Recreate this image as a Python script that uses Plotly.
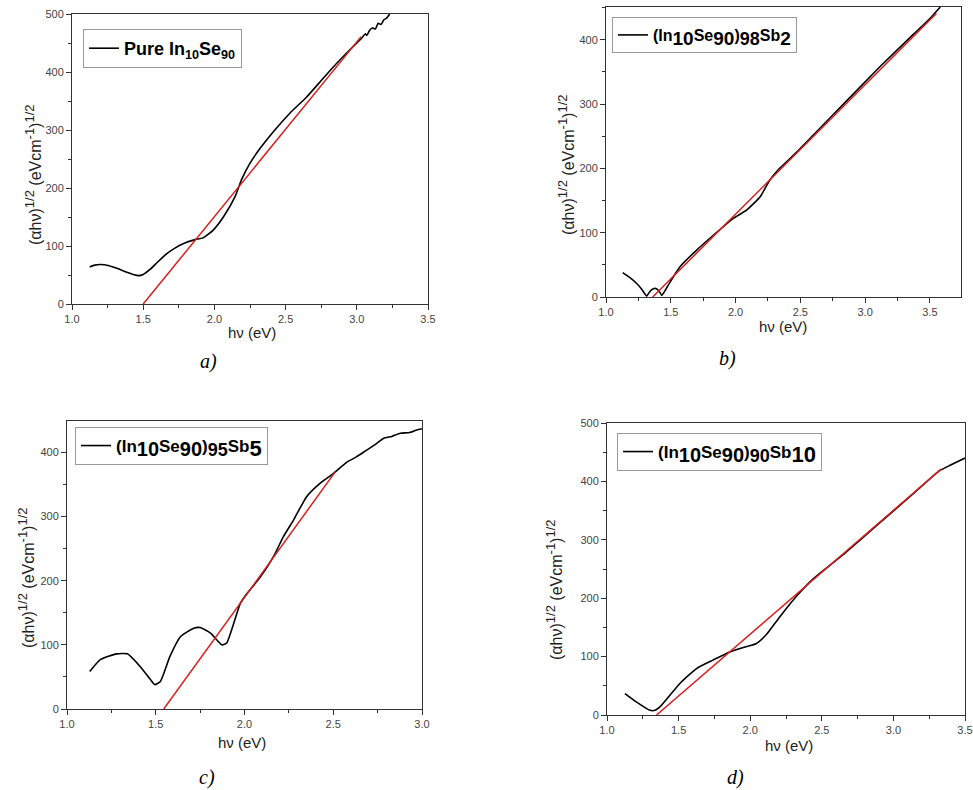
import plotly.graph_objects as go

# ---------------- data ----------------
# Panel a: Pure In10Se90
x_a = [1.124, 1.16, 1.20, 1.26, 1.32, 1.38, 1.43, 1.467, 1.50, 1.55, 1.60, 1.666, 1.72, 1.78, 1.864,
       1.92, 1.99, 2.063, 2.145, 2.19, 2.25, 2.32, 2.414, 2.53, 2.648, 2.742, 2.859, 2.95, 3.02,
       3.04, 3.06, 3.07, 3.09, 3.11, 3.13, 3.15, 3.17, 3.19, 3.21, 3.23]
y_a = [64, 67, 68, 66, 61, 55, 51, 49, 51, 60, 72, 87, 96, 104, 111,
       114, 127, 150, 185, 214, 243, 268, 297, 329, 357, 383, 415, 438, 455,
       460, 466, 463, 472, 476, 474, 484, 482, 490, 493, 500]
x_fit_a = [1.50, 3.03]
y_fit_a = [0, 461]

# Panel b: (In10Se90)98Sb2
x_b = [1.129, 1.18, 1.237, 1.28, 1.314, 1.33, 1.345, 1.365, 1.39, 1.41, 1.43, 1.45, 1.50,
       1.571, 1.70, 1.828, 1.98, 2.085, 2.19, 2.265, 2.34, 2.47, 2.60, 2.857, 3.114, 3.37, 3.50, 3.58]
y_b = [38, 31, 21, 11, 1.5, 6, 10, 13, 13, 9, 2.6, 8, 25,
       47, 73, 96, 122, 135, 156, 182, 200, 225, 252, 305, 358, 408, 433, 451]
x_fit_b = [1.36, 3.55]
y_fit_b = [0, 441]

# Panel c: (In10Se90)95Sb5
x_c = [1.128, 1.188, 1.28, 1.34, 1.413, 1.47, 1.494, 1.526, 1.58, 1.64, 1.714, 1.75, 1.81, 1.873,
       1.90, 1.94, 1.977, 2.014, 2.09, 2.164, 2.22, 2.277, 2.35, 2.427, 2.50, 2.577, 2.63, 2.69,
       2.74, 2.784, 2.83, 2.878, 2.93, 2.97, 3.0]
y_c = [58.6, 77, 86, 86, 66, 46, 38, 43, 82, 113, 126, 127, 118, 100,
       103, 134, 165, 180, 206, 238, 269, 295, 331, 352, 367, 385, 393, 404,
       413, 422, 425, 430, 431, 435, 437]
x_fit_c = [1.545, 2.512]
y_fit_c = [0, 370]

# Panel d: (In10Se90)90Sb10
x_d = [1.125, 1.207, 1.30, 1.335, 1.38, 1.509, 1.625, 1.74, 1.857, 1.97, 2.04, 2.11, 2.206, 2.32,
       2.44, 2.55, 2.67, 2.90, 3.135, 3.32, 3.40, 3.45, 3.50]
y_d = [36.6, 22, 8, 8, 16.6, 54, 79.5, 94, 108, 117, 122, 137, 168, 202.5,
       233, 255, 279, 328, 378, 418, 428, 434, 440]
x_fit_d = [1.346, 3.333]
y_fit_d = [0, 421]


def big(s, px):
    return '<span style="font-size:%dpx">%s</span>' % (px, s)


legend_names = [
    "<b>Pure In<sub>10</sub>Se<sub>90</sub></b>",
    "<b>(In<sub>%s</sub>Se<sub>%s</sub>)<sub>%s</sub>Sb<sub>%s</sub></b>" % (big("10", 19), big("90", 19), big("98", 18), big("2", 19)),
    "<b>(In<sub>%s</sub>Se<sub>%s</sub>)<sub>%s</sub>Sb<sub>%s</sub></b>" % (big("10", 20), big("90", 20), big("95", 18), big("5", 22)),
    "<b>(In<sub>%s</sub>Se<sub>%s</sub>)<sub>%s</sub>Sb<sub>%s</sub></b>" % (big("10", 20), big("90", 20), big("90", 18), big("10", 22)),
]
legend_sizes = [18, 16, 17, 17]
captions = ["a)", "b)", "c)", "d)"]
x_ranges = [[1.0, 3.5], [1.0, 3.74], [1.0, 3.0], [1.0, 3.5]]
y_ranges = [[0, 500], [0, 451], [0, 449], [0, 500]]
xtitle = "hν (eV)"
ytitle = "(αhν)<sup>%s</sup> (eVcm<sup>%s</sup>)<sup>%s</sup>" % (big("1/2", 13), big("-1", 13), big("1/2", 13))

# ---------------- layout geometry (page pixels) ----------------
W, H = 973, 790
frames = [(72, 428, 14, 304), (606, 961, 7, 297), (67, 422, 421, 709), (607, 965, 423, 715)]
legend_pos = [(83, 29), (612, 17), (75, 427), (617, 433)]
caption_pos = [(208, 361), (727, 358), (207, 777), (735, 777)]
xtitle_pos = [(252, 332), (783, 326), (242, 742), (789, 745)]
ytitle_pos = [(33, 175), (566, 165), (26, 578), (554, 590)]


def fx(p):
    return min(1.0, max(0.0, p / W))


def fy(p):
    return min(1.0, max(0.0, 1 - p / H))


series = [(x_a, y_a, x_fit_a, y_fit_a), (x_b, y_b, x_fit_b, y_fit_b),
          (x_c, y_c, x_fit_c, y_fit_c), (x_d, y_d, x_fit_d, y_fit_d)]

fig = go.Figure()
axis_col = "#333333"
FONT = "Liberation Sans, Arial"
tick_font = dict(family=FONT, size=11, color="#444444")

for i, (xs, ys, xf, yf) in enumerate(series):
    n = "" if i == 0 else str(i + 1)
    lg = "legend" if i == 0 else "legend" + str(i + 1)
    fig.add_trace(go.Scatter(x=xs, y=ys, mode="lines",
                             line=dict(color="black", width=1.6, shape="spline", smoothing=0.5),
                             name=legend_names[i], legend=lg, xaxis="x" + n, yaxis="y" + n, showlegend=True))
    fig.add_trace(go.Scatter(x=xf, y=yf, mode="lines", line=dict(color="#d81e1e", width=1.5),
                             showlegend=False, xaxis="x" + n, yaxis="y" + n))
    l, r, t, b = frames[i]
    xa = dict(domain=[fx(l), fx(r)], range=x_ranges[i], anchor="y" + n, showline=True, linecolor=axis_col,
              linewidth=1, mirror=True, ticks="outside", ticklen=5, tickcolor=axis_col, dtick=0.5, tick0=1.0,
              tickformat=".1f", showgrid=False, zeroline=False, tickfont=tick_font, automargin=False,
              minor=dict(ticks="outside", ticklen=3, dtick=0.25, tick0=1.0, tickcolor=axis_col, showgrid=False))
    ya = dict(domain=[fy(b), fy(t)], range=y_ranges[i], anchor="x" + n, showline=True, linecolor=axis_col,
              linewidth=1, mirror=True, ticks="outside", ticklen=5, tickcolor=axis_col, dtick=100, tick0=0,
              showgrid=False, zeroline=False, tickfont=tick_font, automargin=False,
              minor=dict(ticks="outside", ticklen=3, dtick=50, tick0=0, tickcolor=axis_col, showgrid=False))
    fig.layout["xaxis" + n] = xa
    fig.layout["yaxis" + n] = ya
    lx, ly = legend_pos[i]
    fig.layout[lg] = dict(x=fx(lx), y=fy(ly), xanchor="left", yanchor="top", xref="paper", yref="paper",
                          bgcolor="white", bordercolor="#999999", borderwidth=1,
                          font=dict(family=FONT, size=legend_sizes[i], color="black"))
    cx, cy = caption_pos[i]
    fig.add_annotation(x=fx(cx), y=fy(cy), xref="paper", yref="paper", xanchor="center", yanchor="middle",
                       text="<i>" + captions[i] + "</i>", showarrow=False,
                       font=dict(family="Liberation Serif, Times New Roman", size=20, color="black"))
    tx, ty = xtitle_pos[i]
    fig.add_annotation(x=fx(tx), y=fy(ty), xref="paper", yref="paper", xanchor="center", yanchor="middle",
                       text=xtitle, showarrow=False, font=dict(family=FONT, size=15, color="#222222"))
    vx, vy = ytitle_pos[i]
    fig.add_annotation(x=fx(vx), y=fy(vy), xref="paper", yref="paper", xanchor="center", yanchor="middle",
                       text=ytitle, showarrow=False, textangle=-90,
                       font=dict(family=FONT, size=16, color="#222222"))

fig.update_layout(template="none", width=W, height=H, margin=dict(l=0, r=0, t=0, b=0),
                  paper_bgcolor="white", plot_bgcolor="white", font=dict(family=FONT))
# remove the browser's default 8px body margin so the figure fills the window exactly
fig.write_html("out.html", config={"displayModeBar": False},
               post_script="document.body.style.margin='0';document.body.style.overflow='hidden';")
